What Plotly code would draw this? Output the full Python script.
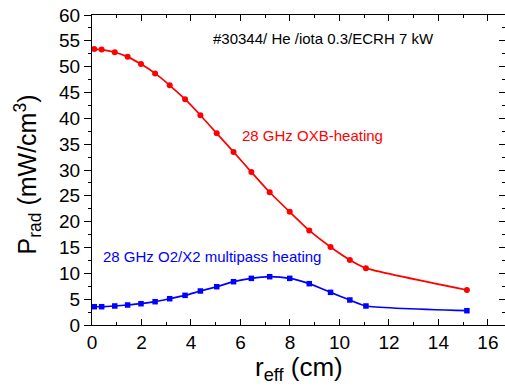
import plotly.graph_objects as go

r_eff = [0.09, 0.39, 0.92, 1.44, 1.98, 2.55, 3.14, 3.76, 4.38, 5.04, 5.72, 6.44,
         7.18, 7.99, 8.78, 9.64, 10.42, 11.07, 15.15]
p_oxb = [53.4, 53.3, 52.8, 51.9, 50.5, 48.7, 46.4, 43.7, 40.6, 37.1, 33.5, 29.6,
         25.7, 21.9, 18.3, 15.1, 12.6, 11.0, 6.77]
p_o2x2 = [3.54, 3.54, 3.68, 3.87, 4.12, 4.51, 5.09, 5.74, 6.58, 7.41, 8.38, 9.03,
          9.35, 9.03, 8.0, 6.32, 4.84, 3.68, 2.77]

x_ticks = [0, 2, 4, 6, 8, 10, 12, 14, 16]
y_ticks = [0, 5, 10, 15, 20, 25, 30, 35, 40, 45, 50, 55, 60]

FONT = "Liberation Sans, Arial, sans-serif"
RED = "#FF0000"
BLUE = "#0000FF"

fig = go.Figure()
fig.add_trace(go.Scatter(x=r_eff, y=p_oxb, mode="lines+markers",
                         line=dict(color=RED, width=1.7, shape="spline", smoothing=0.5),
                         marker=dict(symbol="circle", size=6, color=RED),
                         showlegend=False))
fig.add_trace(go.Scatter(x=r_eff, y=p_o2x2, mode="lines+markers",
                         line=dict(color=BLUE, width=1.7, shape="spline", smoothing=0.5),
                         marker=dict(symbol="square", size=5.5, color=BLUE),
                         showlegend=False))
# invisible trace to activate the right-hand axis
fig.add_trace(go.Scatter(x=[0], y=[0], yaxis="y2", mode="markers",
                         marker=dict(opacity=0), showlegend=False, hoverinfo="skip"))

fig.update_layout(
    width=505, height=387,
    margin=dict(l=92, r=0, t=15, b=62, autoexpand=False),
    plot_bgcolor="white", paper_bgcolor="white",
    font=dict(family=FONT, color="black"),
    xaxis=dict(range=[0, 16.69], tickvals=x_ticks, ticks="inside", ticklen=6,
               tickwidth=1, tickcolor="black", showline=True, linecolor="black",
               linewidth=1.2, mirror="ticks", showgrid=False, zeroline=False,
               automargin=False,
               tickfont=dict(size=19, family=FONT),
               minor=dict(dtick=1, ticks="inside", ticklen=3, tickcolor="black",
                          showgrid=False)),
    yaxis=dict(range=[0, 60], tickvals=y_ticks, ticks="outside", ticklen=7,
               tickwidth=1, tickcolor="black", showline=True, linecolor="black",
               linewidth=1.2, showgrid=False, zeroline=False, automargin=False,
               tickfont=dict(size=19, family=FONT),
               minor=dict(dtick=2.5, ticks="outside", ticklen=3, tickcolor="black",
                          showgrid=False)),
    yaxis2=dict(range=[0, 60], overlaying="y", side="right", tickvals=y_ticks,
                ticks="inside", ticklen=6, tickcolor="black", showline=True,
                linecolor="black", linewidth=1.2, showticklabels=False,
                showgrid=False, zeroline=False, automargin=False,
                minor=dict(dtick=2.5, ticks="inside", ticklen=3, tickcolor="black",
                           showgrid=False)),
)

fig.add_annotation(x=9.37, y=55.5, text="#30344/ He /iota 0.3/ECRH 7 kW",
                   showarrow=False, font=dict(size=15, color="black", family=FONT))
fig.add_annotation(x=8.91, y=36.75, text="28 GHz OXB-heating",
                   showarrow=False, font=dict(size=15, color=RED, family=FONT))
fig.add_annotation(x=4.84, y=13.3, text="28 GHz O2/X2 multipass heating",
                   showarrow=False, font=dict(size=15, color=BLUE, family=FONT))

# axis titles
fig.add_annotation(xref="paper", yref="paper", x=-0.156, y=0.484, xanchor="center",
                   yanchor="middle", textangle=-90, showarrow=False,
                   text="P<sub>rad</sub> (mW/cm<sup>3</sup>)",
                   font=dict(size=25, family=FONT, color="black"))
fig.add_annotation(xref="paper", yref="paper", x=0.50, y=-0.14, xanchor="center",
                   yanchor="middle", showarrow=False,
                   text="r<sub>eff</sub> (cm)",
                   font=dict(size=26, family=FONT, color="black"))

fig.write_html("out.html")
